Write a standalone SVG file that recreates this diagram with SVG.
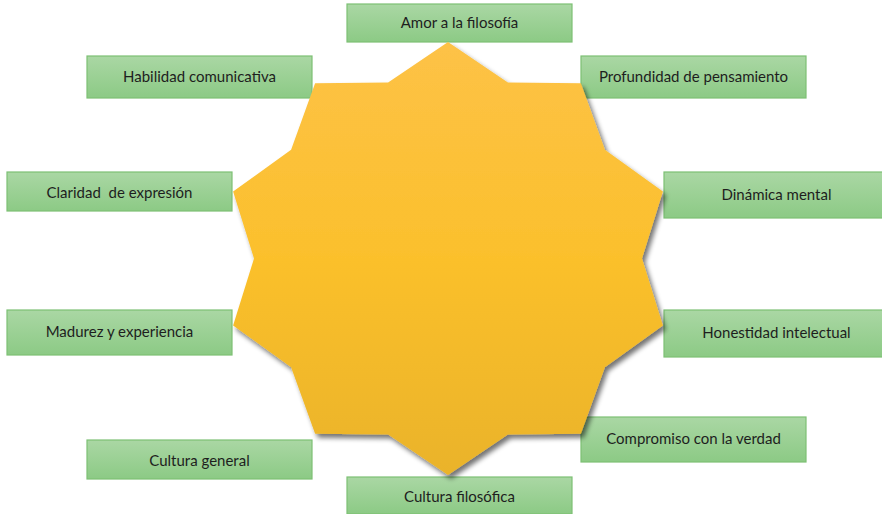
<svg xmlns="http://www.w3.org/2000/svg" width="882" height="514" viewBox="0 0 882 514">
<defs>
<linearGradient id="gBox" x1="0" y1="0" x2="0" y2="1">
<stop offset="0" stop-color="#AAD7A4"/>
<stop offset="1" stop-color="#8CCA85"/>
</linearGradient>
<linearGradient id="gStar" x1="0" y1="0" x2="0" y2="1">
<stop offset="0" stop-color="#FDC247"/>
<stop offset="0.5" stop-color="#FBC02C"/>
<stop offset="1" stop-color="#EAB32A"/>
</linearGradient>
<filter id="sh" x="-10%" y="-10%" width="125%" height="125%">
<feGaussianBlur in="SourceAlpha" stdDeviation="2.5"/>
<feOffset dx="3" dy="4" result="b"/>
<feComponentTransfer><feFuncA type="linear" slope="0.55"/></feComponentTransfer>
<feMerge><feMergeNode/><feMergeNode in="SourceGraphic"/></feMerge>
</filter>
</defs>
<style>
.box{fill:url(#gBox);stroke:#7DC074;stroke-width:1.2}
.lbl{font-family:Lato,"Liberation Sans",sans-serif;font-size:15px;fill:#1E1E1E;text-anchor:middle}
</style>
<rect width="882" height="514" fill="#FFFFFF"/>
<g id="n-amor"><rect class="box" x="347" y="4" width="225" height="38"/><text class="lbl" x="459.5" y="28">Amor a la filosofía</text></g>
<g id="n-habilidad"><rect class="box" x="87" y="56" width="225" height="42"/><text class="lbl" x="199.5" y="82">Habilidad comunicativa</text></g>
<g id="n-profundidad"><rect class="box" x="581" y="56" width="225" height="42"/><text class="lbl" x="693.5" y="82">Profundidad de pensamiento</text></g>
<g id="n-claridad"><rect class="box" x="7" y="172" width="225" height="39"/><text class="lbl" x="119.5" y="198" xml:space="preserve">Claridad  de expresión</text></g>
<g id="n-dinamica"><rect class="box" x="664" y="172" width="225" height="46"/><text class="lbl" x="776.5" y="200">Dinámica mental</text></g>
<g id="n-madurez"><rect class="box" x="7" y="310" width="225" height="45"/><text class="lbl" x="119.5" y="337">Madurez y experiencia</text></g>
<g id="n-honestidad"><rect class="box" x="664" y="310" width="225" height="47"/><text class="lbl" x="776.5" y="338">Honestidad intelectual</text></g>
<g id="n-compromiso"><rect class="box" x="581" y="417" width="225" height="45"/><text class="lbl" x="693.5" y="444">Compromiso con la verdad</text></g>
<g id="n-general"><rect class="box" x="87" y="440" width="225" height="39"/><text class="lbl" x="199.5" y="466">Cultura general</text></g>
<g id="n-filosofica"><rect class="box" x="347" y="477" width="225" height="37"/><text class="lbl" x="459.5" y="502">Cultura filosófica</text></g>
<g id="n-star">
<polygon filter="url(#sh)" fill="url(#gStar)" points="448,42 507.9,82.6 580.9,83.3 604.9,149.7 662.9,191.6 642,258.5 662.9,325.4 604.9,367.3 580.9,433.7 507.9,434.4 448,475 388.1,434.4 315.1,433.7 291.1,367.3 233.1,325.4 254,258.5 233.1,191.6 291.1,149.7 315.1,83.3 388.1,82.6"/>
</g>
<g id="connectors"></g>
</svg>
